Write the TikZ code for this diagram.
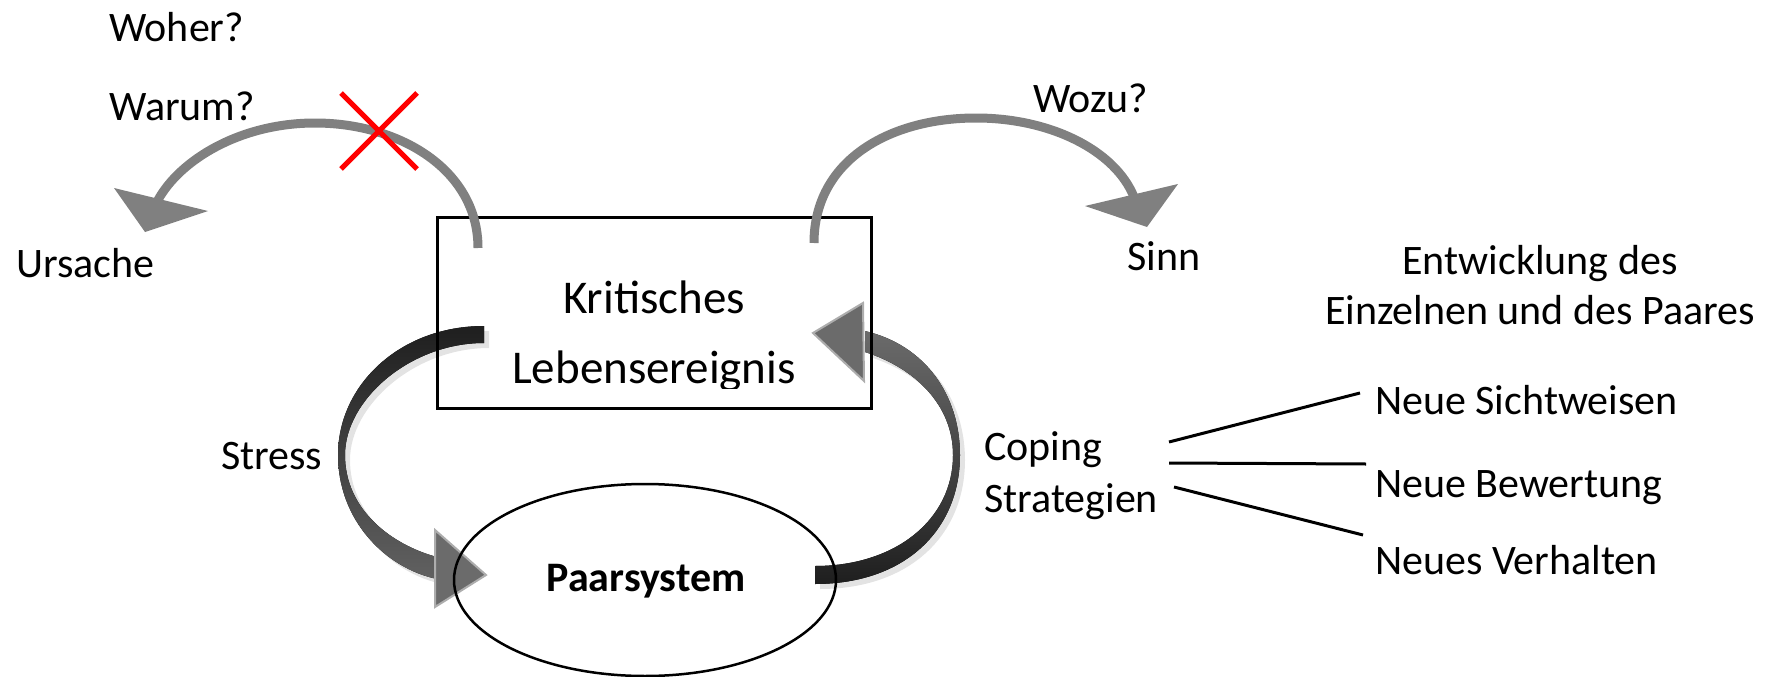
\documentclass[tikz,border=0pt]{standalone}
\usepackage{fontspec}
\setmainfont{Carlito}
\usetikzlibrary{shapes.geometric,shadows}
\begin{document}
\begin{tikzpicture}[x=1pt,y=-1pt,
  txt/.style={inner sep=0pt, font=\fontsize{42}{50}\selectfont},
  bigtxt/.style={inner sep=0pt, font=\fontsize{47}{56}\selectfont},
  grayarc/.style={draw=gray, line width=9pt},
  grayhead/.style={fill=gray},
  ribbonhead/.style={fill=black!58, draw=black!32, line width=2pt},
  ribshadow/.style={drop shadow={opacity=0.22, shadow xshift=5pt, shadow yshift=-5pt}},
  conn/.style={line width=3pt},
  cross/.style={draw=red, line width=5pt}]
\useasboundingbox (0,0) rectangle (1773,677);

% ribbons (drawn first, box and ellipse over them)
\fill[ribshadow, top color=black!88, middle color=black!48, bottom color=black!62]
  (484,326) .. controls (400,326) and (338,385) .. (338,455)
  .. controls (338,520) and (385,568) .. (437,579) -- (437,557)
  .. controls (392,545) and (345,510) .. (345,455)
  .. controls (345,400) and (410,343) .. (484,343) -- cycle;
\filldraw[ribbonhead] (435,530) -- (486,575) -- (435,607) -- cycle;

\fill[ribshadow, top color=black!58, middle color=black!42, bottom color=black!88]
  (815,584) .. controls (905,584) and (960,530) .. (960,455)
  .. controls (960,395) and (925,345) .. (865,331) -- (865,352)
  .. controls (915,368) and (953,405) .. (953,455)
  .. controls (953,520) and (895,566) .. (815,566) -- cycle;
\filldraw[ribbonhead] (813,333) -- (863,303) -- (864,381) -- cycle;

% box and ellipse
\node[draw, line width=3pt, minimum width=434pt, minimum height=191pt, inner sep=0pt] (box) at (654,312.5) {};
\node[draw, ellipse, line width=2.5pt, minimum width=382pt, minimum height=192pt, inner sep=0pt] (ell) at (645,580) {};

\begin{scope}
\clip (437,217) rectangle (871,388);
\node[bigtxt, anchor=base] (krit) at (654,313) {Kritisches};
\node[bigtxt, anchor=base] (leb) at (654,383) {Lebensereignis};
\end{scope}
\node[txt, anchor=base, font=\fontsize{42}{50}\selectfont\bfseries] (paar) at (646,591) {Paarsystem};

% gray arcs
\coordinate (ls) at (478,248);
\coordinate (le) at (158,200);
\draw[grayarc] (ls) .. controls (478,170) and (400,123) .. (315,123)
  .. controls (240,123) and (180,160) .. (le);
\fill[grayhead] (114,188) -- (208,211) -- (145,232) -- cycle;
\draw[cross] (341,93) -- (417,169);
\draw[cross] (417,93) -- (341,169);

\coordinate (rs) at (814,243);
\coordinate (re) at (1134,197);
\draw[grayarc] (rs) .. controls (814,160) and (890,118) .. (976,118)
  .. controls (1050,118) and (1115,150) .. (re);
\fill[grayhead] (1085,206) -- (1178,184) -- (1147,227) -- cycle;

% texts
\node[txt, anchor=base west] (woher) at (109,42) {Woher?};
\node[txt, anchor=base west] (warum) at (109,120) {Warum?};
\node[txt, anchor=base west] (ursache) at (16,277) {Ursache};
\node[txt, anchor=base west] (wozu) at (1033,113) {Wozu?};
\node[txt, anchor=base west] (sinn) at (1127,270) {Sinn};
\node[txt, anchor=base west] (stress) at (221,469) {Stress};
\node[txt, anchor=base west] (coping) at (984,460) {Coping};
\node[txt, anchor=base west] (strat) at (984,512) {Strategien};
\node[txt, anchor=base] (entw) at (1540,274) {Entwicklung des};
\node[txt, anchor=base] (einz) at (1540,324) {Einzelnen und des Paares};
\node[txt, anchor=base west] (ns) at (1375,414) {Neue Sichtweisen};
\node[txt, anchor=base west] (nb) at (1375,497) {Neue Bewertung};
\node[txt, anchor=base west] (nv) at (1375,574) {Neues Verhalten};

% connectors
\coordinate (c1) at (1169,442);
\coordinate (c2) at (1169,463);
\coordinate (c3) at (1174,487);
\coordinate (e1) at (1360,393);
\coordinate (e2) at (1366,464);
\coordinate (e3) at (1363,535);
\draw[conn] (c1) -- (e1);
\draw[conn] (c2) -- (e2);
\draw[conn] (c3) -- (e3);
\end{tikzpicture}
\end{document}
